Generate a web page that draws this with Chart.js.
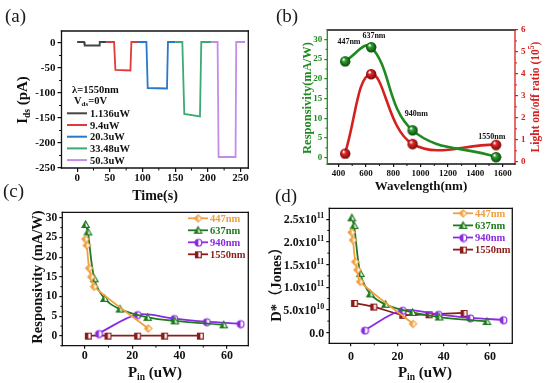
<!DOCTYPE html>
<html>
<head>
<meta charset="utf-8">
<title>Photoresponse</title>
<script src="https://cdn.jsdelivr.net/npm/chart.js@4.4.1/dist/chart.umd.min.js"></script>
<style>
  html, body { margin: 0; padding: 0; background: #fff; }
  #page { position: relative; width: 553px; height: 383px; overflow: hidden; }
  canvas { position: absolute; }
  .tag { position: absolute; font: 19px "Liberation Serif", serif; color: #1a1a1a; line-height: 19px; }
</style>
</head>
<body>
<div id="page">
  <canvas id="chartA" width="276" height="205" style="left:0;top:0"></canvas>
  <canvas id="chartB" width="277" height="200" style="left:276px;top:0"></canvas>
  <canvas id="chartC" width="262" height="185" style="left:0;top:198px"></canvas>
  <canvas id="chartD" width="291" height="185" style="left:262px;top:198px"></canvas>
  <div class="tag" style="left:5px;top:6px">(a)</div>
  <div class="tag" style="left:276px;top:6px">(b)</div>
  <div class="tag" style="left:3px;top:181px">(c)</div>
  <div class="tag" style="left:275px;top:186px">(d)</div>
</div>
<script>
// (a) photocurrent under 1550 nm, one trace per light power
const powerLabels = ["1.136uW", "9.4uW", "20.3uW", "33.48uW", "50.3uW"];
const timeP1 = [0, 10.5, 11.5, 33.5, 34.5, 45];
const currentP1 = [2, 2, -5, -5, 2, 2];
const timeP2 = [45, 56.5, 58.5, 81.5, 83, 92];
const currentP2 = [2, 2, -54, -55, 2, 2];
const timeP3 = [90, 106, 108, 137.5, 139, 150];
const currentP3 = [2, 2, -90, -91, 2, 2];
const timeP4 = [150, 161, 164, 188, 190, 205];
const currentP4 = [2, 2, -142, -147, 2, 2];
const timeP5 = [205, 215, 216.5, 242.5, 243.5, 257];
const currentP5 = [2, 2, -228, -228, 2, 2];

// (b) responsivity and on/off ratio vs wavelength
const wavelengths = [447, 637, 940, 1550];
const wavelengthTags = ["447nm", "637nm", "940nm", "1550nm"];
const respByWavelength = [24.5, 28.1, 7.0, 0.2];
const onOffRatio = [0.38, 4.0, 0.82, 0.78];   // x10^5

// (c)/(d) responsivity and detectivity vs incident power
const seriesNames = ["447nm", "637nm", "940nm", "1550nm"];
const power447 = [0.2, 0.8, 1.8, 2.7, 3.9, 26.7];
const resp447 = [24.6, 23.0, 17.2, 15.0, 12.5, 1.9];
const detect447 = [2.21e11, 2.04e11, 1.56e11, 1.38e11, 1.12e11, 0.19e11];
const power637 = [0.3, 1.3, 4.0, 8.3, 14.8, 26.5, 38, 58.6];
const resp637 = [28.3, 26.4, 14.5, 9.5, 6.8, 4.7, 3.8, 2.8];
const detect637 = [2.53e11, 2.36e11, 1.30e11, 0.85e11, 0.62e11, 0.44e11, 0.34e11, 0.24e11];
const power940 = [5.8, 22.1, 37.6, 51.3, 65.6];
const resp940 = [0.6, 5.4, 4.4, 3.6, 3.1];
const detect940 = [0.05e11, 0.49e11, 0.40e11, 0.32e11, 0.28e11];
const power1550 = [1.3, 9.6, 22.1, 33.5, 48.6];
const resp1550 = [0.05, 0.05, 0.05, 0.05, 0.05];
const detect1550 = [0.65e11, 0.57e11, 0.39e11, 0.40e11, 0.43e11];

const SERIF = '"Liberation Serif", "Times New Roman", "Noto Sans CJK SC", serif';
const font = (size, weight = "bold") => `${weight} ${size}px ${SERIF}`;
Chart.defaults.font.family = SERIF;
Chart.defaults.animation = false;

const powerColors = ["#444444", "#e03a3a", "#2a78c8", "#3caa72", "#c48cea"];
const seriesColors = ["#f0a040", "#1f7a1f", "#8a2be2", "#8b1c1c"];
const GREEN = "#1f8a1f", RED = "#d42020";

// page geometry: canvas box and wanted plot area, all in page pixels
const panelA = { left: 0, top: 0, w: 276, h: 205, area: [61.5, 31, 248.3, 168] };
const panelB = { left: 276, top: 0, w: 277, h: 200, area: [327.3, 30, 515, 164] };
const panelC = { left: 0, top: 198, w: 262, h: 185, area: [62.3, 212.3, 248.3, 345.7] };
const panelD = { left: 262, top: 198, w: 291, h: 185, area: [329.3, 208.3, 512.3, 343.3] };

const xy = (xs, ys) => xs.map((x, i) => ({ x: x, y: ys[i] }));

function sphere(base, dark, r) {
  const c = document.createElement("canvas");
  c.width = c.height = 2 * r + 2;
  const g = c.getContext("2d");
  const m = r + 1;
  const grad = g.createRadialGradient(m - r * 0.35, m - r * 0.4, r * 0.08, m, m, r);
  grad.addColorStop(0, "#ffffff");
  grad.addColorStop(0.3, base);
  grad.addColorStop(1, dark);
  g.fillStyle = grad;
  g.beginPath();
  g.arc(m, m, r, 0, Math.PI * 2);
  g.fill();
  return c;
}

function marker(shape, color, r) {
  const s = 2 * r + 4;
  const c = document.createElement("canvas");
  c.width = c.height = s;
  const g = c.getContext("2d");
  const m = s / 2;
  g.beginPath();
  if (shape === "circle") g.arc(m, m, r, 0, Math.PI * 2);
  else if (shape === "square") g.rect(m - r * 0.85, m - r * 0.85, r * 1.7, r * 1.7);
  else if (shape === "diamond") { g.moveTo(m, m - r); g.lineTo(m + r, m); g.lineTo(m, m + r); g.lineTo(m - r, m); g.closePath(); }
  else { g.moveTo(m, m - r); g.lineTo(m + r, m + r * 0.75); g.lineTo(m - r, m + r * 0.75); g.closePath(); }
  g.fillStyle = "#fff";
  g.fill();
  g.save();
  g.clip();
  g.fillStyle = color;
  g.fillRect(0, 0, m, s);
  g.restore();
  g.strokeStyle = color;
  g.lineWidth = 1.2;
  g.stroke();
  return c;
}

const seriesMarkers = [
  marker("diamond", seriesColors[0], 3.6),
  marker("triangle", seriesColors[1], 3.6),
  marker("circle", seriesColors[2], 3.4),
  marker("square", seriesColors[3], 3.4)
];

// parts: [text, size, dy]
function richText(ctx, x, y, angle, color, parts, align = "center") {
  ctx.save();
  ctx.translate(x, y);
  ctx.rotate(angle);
  ctx.fillStyle = color;
  ctx.textAlign = "left";
  ctx.textBaseline = "alphabetic";
  let total = 0;
  const widths = parts.map(p => { ctx.font = font(p[1]); const w = ctx.measureText(p[0]).width; total += w; return w; });
  let cx = align === "center" ? -total / 2 : align === "right" ? -total : 0;
  const shift = parts[0][1] * 0.34;
  parts.forEach((p, i) => {
    ctx.font = font(p[1]);
    ctx.fillText(p[0], cx, shift + (p[2] || 0));
    cx += widths[i];
  });
  ctx.restore();
}

function frame(ctx, a, sides) {
  const segs = [[a.left, a.top, a.right, a.top], [a.right, a.top, a.right, a.bottom],
                [a.left, a.bottom, a.right, a.bottom], [a.left, a.top, a.left, a.bottom]];
  ctx.save();
  ctx.lineWidth = 1.3;
  ctx.lineCap = "square";
  segs.forEach((s, i) => {
    ctx.strokeStyle = sides[i];
    ctx.beginPath();
    ctx.moveTo(s[0], s[1]);
    ctx.lineTo(s[2], s[3]);
    ctx.stroke();
  });
  ctx.restore();
}

function minorTicks(ctx, scale, len, color) {
  const t = scale.ticks;
  if (t.length < 2) return;
  const step = t[1].value - t[0].value;
  const vals = [t[0].value - step / 2];
  t.forEach(k => vals.push(k.value + step / 2));
  ctx.save();
  ctx.strokeStyle = color;
  ctx.lineWidth = 1;
  vals.forEach(v => {
    if (v < scale.min || v > scale.max) return;
    const p = scale.getPixelForValue(v);
    ctx.beginPath();
    if (scale.isHorizontal()) { ctx.moveTo(p, scale.top); ctx.lineTo(p, scale.top + len); }
    else if (scale.position === "left") { ctx.moveTo(scale.right, p); ctx.lineTo(scale.right - len, p); }
    else { ctx.moveTo(scale.left, p); ctx.lineTo(scale.left + len, p); }
    ctx.stroke();
  });
  ctx.restore();
}

function linearAxis(min, max, step, o) {
  const color = o.color || "#111";
  return {
    type: "linear",
    position: o.position,
    min: min, max: max,
    border: { display: false },
    grid: { drawOnChartArea: false, color: color, tickLength: o.tick || 4, lineWidth: 1.2 },
    ticks: {
      color: color,
      display: o.labels !== false,
      padding: o.pad === undefined ? 2 : o.pad,
      font: { family: SERIF, weight: "bold", size: o.size || 11 },
      callback: v => String(v)
    },
    // round ticks only, every step inside [min, max]
    afterBuildTicks: s => {
      const out = [];
      for (let k = Math.ceil(min / step - 1e-9); k * step <= max + 1e-9 * Math.abs(step); k++) {
        out.push({ value: parseFloat((k * step).toPrecision(12)) });
      }
      s.ticks = out;
    },
    afterFit: o.fit
  };
}

function pinned(p) {
  const [l, t, r, b] = p.area;
  return { l: l - p.left, t: t - p.top, r: r - p.left, b: b - p.top };
}

function decor(p, draw) {
  return {
    id: "decor",
    afterDraw(chart) {
      const ctx = chart.ctx;
      ctx.save();
      ctx.translate(-p.left, -p.top);
      draw(chart, ctx);
      ctx.restore();
    }
  };
}

function baseOptions(p, scales, rightAxis) {
  const a = pinned(p);
  return {
    responsive: false,
    animation: false,
    layout: { padding: { left: 0, top: a.t, right: rightAxis ? 0 : p.w - a.r, bottom: 0 } },
    plugins: { legend: { display: false }, tooltip: { enabled: false } },
    scales: scales
  };
}

// ---------- (a) ----------
const timeTraces = [timeP1, timeP2, timeP3, timeP4, timeP5];
const currentTraces = [currentP1, currentP2, currentP3, currentP4, currentP5];
const pa = pinned(panelA);

new Chart(document.getElementById("chartA"), {
  type: "line",
  data: {
    datasets: powerLabels.map((lab, i) => ({
      label: lab,
      data: xy(timeTraces[i], currentTraces[i]),
      borderColor: powerColors[i],
      borderWidth: 1.8,
      pointRadius: 0,
      tension: 0
    }))
  },
  options: baseOptions(panelA, {
    x: linearAxis(-24, 262, 50, { position: "bottom", pad: 0, fit: s => { s.height = panelA.h - pa.b; } }),
    y: linearAxis(-250, 24, 50, { position: "left", fit: s => { s.width = pa.l; } })
  }),
  plugins: [decor(panelA, (chart, ctx) => {
    ctx.save();
    ctx.translate(panelA.left, panelA.top);
    frame(ctx, chart.chartArea, ["#111", "#111", "#111", "#111"]);
    minorTicks(ctx, chart.scales.x, 2.5, "#111");
    minorTicks(ctx, chart.scales.y, 2.5, "#111");
    ctx.restore();
    richText(ctx, 22, 100, -Math.PI / 2, "#111", [["I", 15], ["ds", 9.5, 3], [" (pA)", 15]]);
    richText(ctx, 155, 195, 0, "#111", [["Time(s)", 14]]);
    richText(ctx, 72, 89, 0, "#111", [["\u03bb=1550nm", 10.5]], "left");
    richText(ctx, 74, 100, 0, "#111", [["V", 10.5], ["ds", 7, 2.5], ["=0V", 10.5]], "left");
    powerLabels.forEach((lab, i) => {
      const y = 113.3 + i * 11.7;
      ctx.save();
      ctx.strokeStyle = powerColors[i];
      ctx.lineWidth = 2;
      ctx.beginPath();
      ctx.moveTo(67, y);
      ctx.lineTo(87, y);
      ctx.stroke();
      ctx.restore();
      richText(ctx, 90, y, 0, "#111", [[lab, 10.5]], "left");
    });
  })]
});

// ---------- (b) ----------
const pb = pinned(panelB);
const tagShift = [4, 3, 4, -4];
const tagLift = [20, 12, 17, 21];

new Chart(document.getElementById("chartB"), {
  type: "line",
  data: {
    datasets: [
      {
        label: "Responsivity",
        data: xy(wavelengths, respByWavelength),
        yAxisID: "y",
        borderColor: GREEN,
        borderWidth: 2.6,
        tension: 0.4,
        pointStyle: sphere("#2fa02f", "#0a480a", 5.2),
        pointRadius: 5
      },
      {
        label: "Light on/off ratio",
        data: xy(wavelengths, onOffRatio),
        yAxisID: "y1",
        borderColor: RED,
        borderWidth: 2.6,
        tension: 0.4,
        pointStyle: sphere("#e42a2a", "#780808", 5.2),
        pointRadius: 5
      }
    ]
  },
  options: baseOptions(panelB, {
    x: linearAxis(318, 1690, 200, { position: "bottom", size: 9, pad: 1, tick: 3, fit: s => { s.height = panelB.h - pb.b; } }),
    y: linearAxis(-1.6, 32.4, 5, { position: "left", size: 9, tick: 3, color: GREEN, fit: s => { s.width = pb.l; } }),
    y1: linearAxis(-0.1, 6, 1, { position: "right", size: 9, tick: 3, pad: 3, color: RED, fit: s => { s.width = panelB.w - pb.r; } })
  }, true),
  plugins: [decor(panelB, (chart, ctx) => {
    ctx.save();
    ctx.translate(panelB.left, panelB.top);
    frame(ctx, chart.chartArea, ["#111", RED, "#111", GREEN]);
    minorTicks(ctx, chart.scales.x, 2, "#111");
    minorTicks(ctx, chart.scales.y, 2, GREEN);
    minorTicks(ctx, chart.scales.y1, 2, RED);
    ctx.restore();
    const sx = chart.scales.x, sy = chart.scales.y;
    wavelengthTags.forEach((t, i) => {
      const px = sx.getPixelForValue(wavelengths[i]) + panelB.left + tagShift[i];
      const py = sy.getPixelForValue(respByWavelength[i]) + panelB.top - tagLift[i];
      richText(ctx, px, py, 0, "#111", [[t, 8]]);
    });
    richText(ctx, 306.5, 98, -Math.PI / 2, GREEN, [["Responsivity(mA/W)", 12.5]]);
    richText(ctx, 421, 186, 0, "#111", [["Wavelength(nm)", 13]]);
    richText(ctx, 535, 97, -Math.PI / 2, RED, [["Light on/off ratio (10", 11.5], ["5", 7.5, -4.5], [")", 11.5]]);
  })]
});

// ---------- (c) and (d) ----------
const powerSets = [power447, power637, power940, power1550];
const respSets = [resp447, resp637, resp940, resp1550];
const detectSets = [detect447, detect637, detect940, detect1550];

function powerDatasets(values) {
  return seriesNames.map((name, i) => ({
    label: name,
    data: xy(powerSets[i], values[i]),
    borderColor: seriesColors[i],
    borderWidth: 1.8,
    tension: 0.3,
    pointStyle: seriesMarkers[i],
    pointRadius: 4
  }));
}

function seriesLegend(ctx, x, y0, gap) {
  seriesNames.forEach((name, i) => {
    const y = y0 + i * gap;
    ctx.save();
    ctx.strokeStyle = seriesColors[i];
    ctx.lineWidth = 1.8;
    ctx.beginPath();
    ctx.moveTo(x, y);
    ctx.lineTo(x + 20, y);
    ctx.stroke();
    const mk = seriesMarkers[i];
    ctx.drawImage(mk, x + 10 - mk.width / 2, y - mk.height / 2);
    ctx.restore();
    richText(ctx, x + 22, y, 0, seriesColors[i], [[name, 10.5]], "left");
  });
}

const pc = pinned(panelC);
new Chart(document.getElementById("chartC"), {
  type: "line",
  data: { datasets: powerDatasets(respSets) },
  options: baseOptions(panelC, {
    x: linearAxis(-9.5, 69, 20, { position: "bottom", size: 12, pad: 0, tick: 3, fit: s => { s.height = panelC.h - pc.b; } }),
    y: linearAxis(-2.5, 31.4, 5, { position: "left", size: 11.5, tick: 3, fit: s => { s.width = pc.l; } })
  }),
  plugins: [decor(panelC, (chart, ctx) => {
    ctx.save();
    ctx.translate(panelC.left, panelC.top);
    frame(ctx, chart.chartArea, ["#111", "#111", "#111", "#111"]);
    minorTicks(ctx, chart.scales.x, 2, "#111");
    minorTicks(ctx, chart.scales.y, 2, "#111");
    ctx.restore();
    richText(ctx, 37, 277, -Math.PI / 2, "#111", [["Responsivity (mA/W)", 14.5]]);
    richText(ctx, 155, 372, 0, "#111", [["P", 15], ["in", 9.5, 3], [" (uW)", 15]]);
    seriesLegend(ctx, 188, 218.3, 12);
  })]
});

const pd = pinned(panelD);
new Chart(document.getElementById("chartD"), {
  type: "line",
  data: { datasets: powerDatasets(detectSets) },
  options: baseOptions(panelD, {
    x: linearAxis(-9.4, 69.6, 20, { position: "bottom", size: 12, pad: 3, tick: 3, fit: s => { s.height = panelD.h - pd.b; } }),
    y: linearAxis(-0.24e11, 2.74e11, 0.5e11, { position: "left", labels: false, tick: 3, fit: s => { s.width = pd.l; } })
  }),
  plugins: [decor(panelD, (chart, ctx) => {
    ctx.save();
    ctx.translate(panelD.left, panelD.top);
    frame(ctx, chart.chartArea, ["#111", "#111", "#111", "#111"]);
    minorTicks(ctx, chart.scales.x, 2, "#111");
    minorTicks(ctx, chart.scales.y, 2, "#111");
    ctx.restore();
    const sy = chart.scales.y;
    const xr = panelD.area[0] - 5;
    sy.ticks.forEach(t => {
      const y = sy.getPixelForValue(t.value) + panelD.top;
      if (t.value === 0) {
        richText(ctx, xr, y, 0, "#111", [["0.0", 12]], "right");
        return;
      }
      const e = Math.floor(Math.log10(t.value) + 1e-9);
      const m = (t.value / Math.pow(10, e)).toFixed(1);
      richText(ctx, xr, y, 0, "#111", [[m + "x10", 12], [String(e), 8, -5]], "right");
    });
    richText(ctx, 276, 281, -Math.PI / 2, "#111", [["D*\uff08Jones\uff09", 14.5]]);
    richText(ctx, 425, 372, 0, "#111", [["P", 15], ["in", 9.5, 3], [" (uW)", 15]]);
    seriesLegend(ctx, 453, 213.3, 12.1);
  })]
});
</script>
</body>
</html>
